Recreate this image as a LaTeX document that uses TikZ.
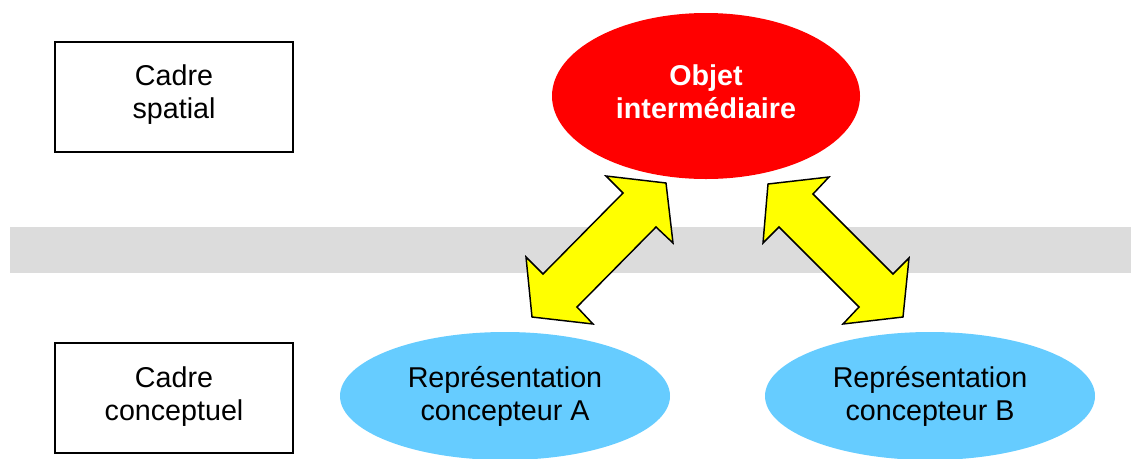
\documentclass[tikz,border=0pt]{standalone}
\usepackage{fontspec}
\setmainfont{Liberation Sans}
\usetikzlibrary{shapes.geometric}
\definecolor{bandgrey}{HTML}{DCDCDC}
\definecolor{skyblue}{HTML}{66CCFF}
\definecolor{objred}{HTML}{FF0000}
\definecolor{arrowyellow}{HTML}{FFFF00}
\tikzset{
  txt/.style={font=\fontsize{21.5}{24.8}\selectfont, align=center},
  framebox/.style={draw=black, line width=1.5pt, fill=white, minimum width=178.5pt, minimum height=82.5pt, inner sep=0pt},
  blueell/.style={txt, ellipse, fill=skyblue, minimum width=247.5pt, minimum height=96pt, inner sep=0pt},
  redell/.style={ellipse, fill=objred, minimum width=231pt, minimum height=124.5pt, inner sep=0pt},
  redtxt/.style={txt, text=white, font=\fontsize{21.5}{24.8}\selectfont\bfseries},
  dblarrow/.style={draw=black, fill=arrowyellow, line width=1.1pt, line join=miter}
}
\begin{document}
\begin{tikzpicture}[x=0.75pt, y=-0.75pt]
\useasboundingbox (0,0) rectangle (1131,458);
% grey band
\fill[bandgrey] (10,227) rectangle (1131,273);
% frame boxes
\node[framebox, label={[txt, yshift=2pt]center:Cadre\\spatial}] (spatial) at (174,97) {};
\node[framebox, label={[txt, yshift=1pt]center:Cadre\\conceptuel}] (conceptuel) at (174,398) {};
% ellipses
\node[redell, label={[redtxt, yshift=3pt]center:Objet\\intermédiaire}] (objet) at (706,96) {};
\node[blueell] (repA) at (505,396) {Représentation\\concepteur A};
\node[blueell] (repB) at (930,396) {Représentation\\concepteur B};
% double arrows
\draw[dblarrow] (666,183) -- (673,243) -- (656,227) -- (577,307) -- (593,324) -- (532,317)
  -- (526,257) -- (543,274) -- (623,193) -- (606,176) -- cycle;
\draw[dblarrow] (768,184) -- (829,177) -- (813,194) -- (893,274) -- (909,258) -- (903,317)
  -- (843,324) -- (859,307) -- (779,227) -- (763,243) -- cycle;
\end{tikzpicture}
\end{document}
